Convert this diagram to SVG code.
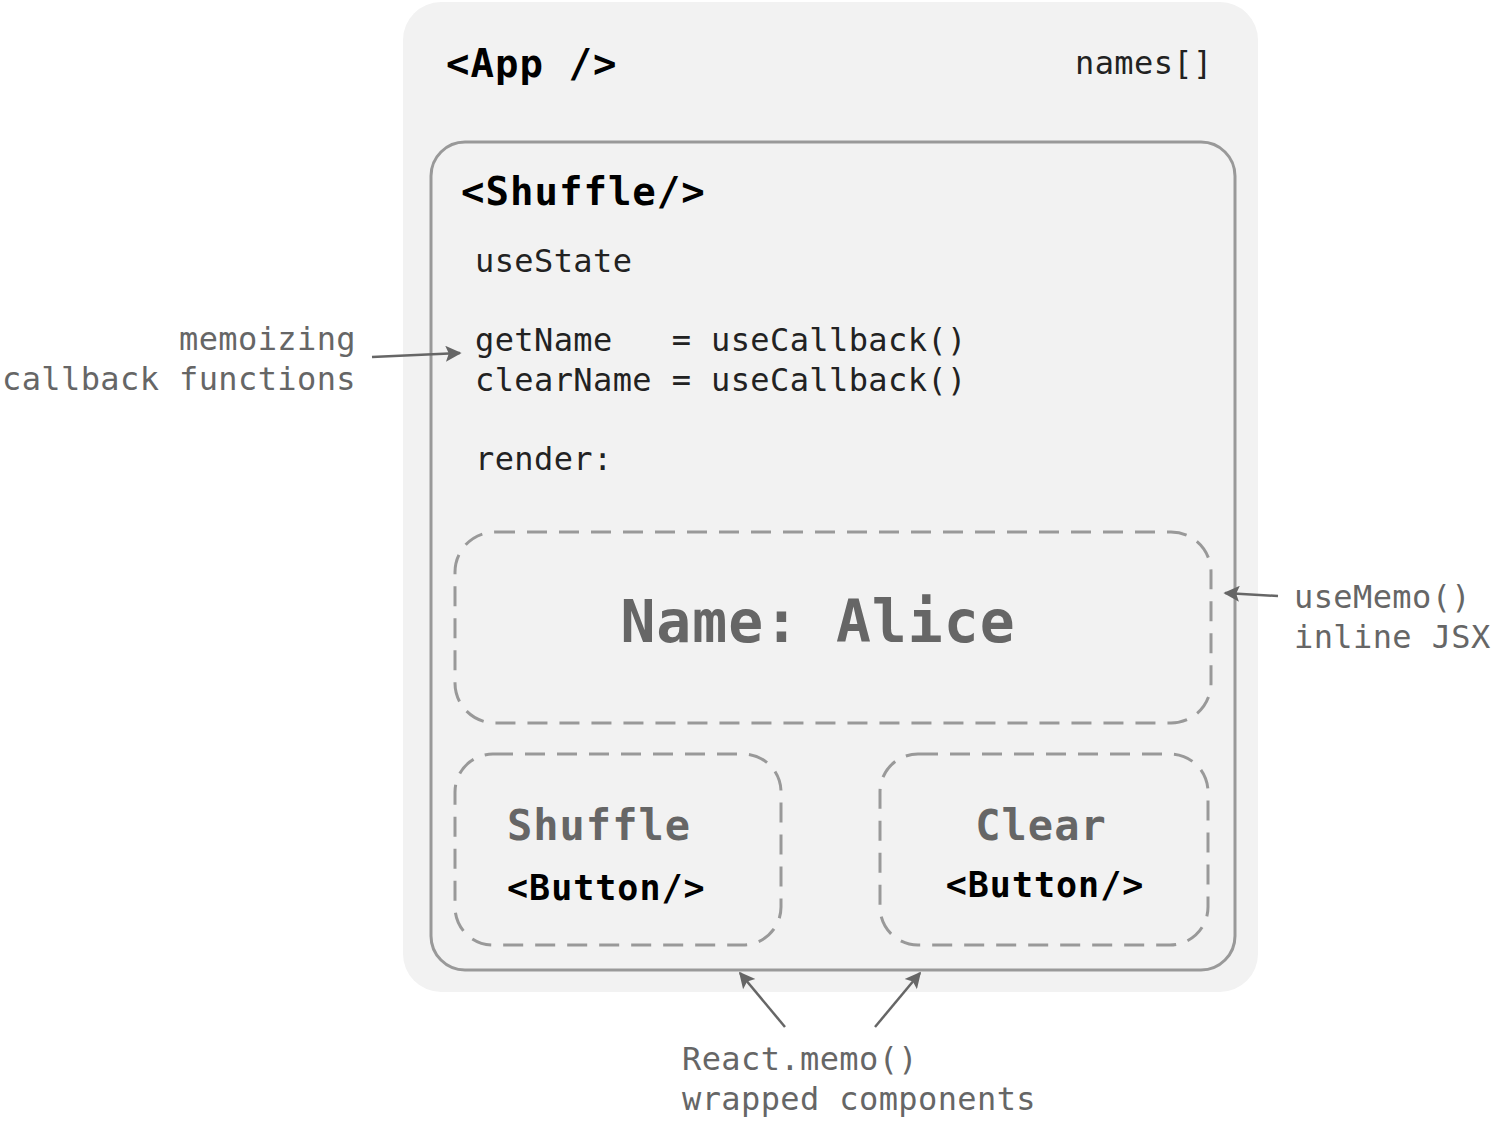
<svg xmlns="http://www.w3.org/2000/svg" width="1491" height="1125" viewBox="0 0 1491 1125">
<style>
text{font-family:"DejaVu Sans Mono","Liberation Mono",monospace}
.title{font-size:39px;font-weight:bold;fill:#000;letter-spacing:1px}
.code{font-size:32px;fill:#222;letter-spacing:0.4px}
.note{font-size:32px;fill:#666;letter-spacing:0.4px}
.solid{fill:none;stroke:#999;stroke-width:3}
.dash{fill:none;stroke:#999;stroke-width:3;stroke-dasharray:20 12}
.big{font-weight:bold;fill:#666}
.conn{stroke:#666;stroke-width:2.5;fill:none;marker-end:url(#ah)}
</style>
<defs>
<marker id="ah" viewBox="0 0 10 10" refX="9" refY="5" markerWidth="18" markerHeight="16" markerUnits="userSpaceOnUse" orient="auto">
<path d="M0,0 L10,5 L0,10 L2,5 z" fill="#666"/>
</marker>
</defs>
<rect width="1491" height="1125" fill="#fff"/>
<g id="app">
<rect x="403" y="2" width="855" height="990" rx="38" fill="#f2f2f2"/>
<text class="title" x="446" y="77">&lt;App /&gt;</text>
<text class="code" x="1075" y="74">names[]</text>
</g>
<g id="shuffle">
<rect class="solid" x="431" y="142" width="804" height="828" rx="34"/>
<text class="title" x="461" y="205">&lt;Shuffle/&gt;</text>
<text class="code" x="475" y="272">useState</text>
<text class="code" x="475" y="351" xml:space="preserve">getName   = useCallback()</text>
<text class="code" x="475" y="391">clearName = useCallback()</text>
<text class="code" x="475" y="470">render:</text>
</g>
<g id="name">
<rect class="dash" x="455" y="532" width="756" height="191" rx="40"/>
<text class="big" x="818" y="642" font-size="58" text-anchor="middle" letter-spacing="1">Name: Alice</text>
</g>
<g id="shuffle-button">
<rect class="dash" x="455" y="754" width="326" height="191" rx="38"/>
<text class="big" x="507" y="840" font-size="42" letter-spacing="1">Shuffle</text>
<text class="title" x="507" y="900" style="font-size:35px">&lt;Button/&gt;</text>
</g>
<g id="clear-button">
<rect class="dash" x="880" y="754" width="328" height="191" rx="38"/>
<text class="big" x="1041" y="840" font-size="42" text-anchor="middle" letter-spacing="1">Clear</text>
<text class="title" x="1045" y="897" text-anchor="middle" style="font-size:35px">&lt;Button/&gt;</text>
</g>
<g id="labels">
<text class="note" x="356" y="350" text-anchor="end">memoizing</text>
<text class="note" x="356" y="390" text-anchor="end">callback functions</text>
<text class="note" x="1294" y="608">useMemo()</text>
<text class="note" x="1294" y="648">inline JSX</text>
<text class="note" x="682" y="1070">React.memo()</text>
<text class="note" x="682" y="1110">wrapped components</text>
</g>
<g id="connectors">
<path class="conn" d="M372,357 L460,353"/>
<path class="conn" d="M1278,596 L1225,593"/>
<path class="conn" d="M785,1027 L740,973"/>
<path class="conn" d="M875,1027 L920,973"/>
</g>
</svg>
